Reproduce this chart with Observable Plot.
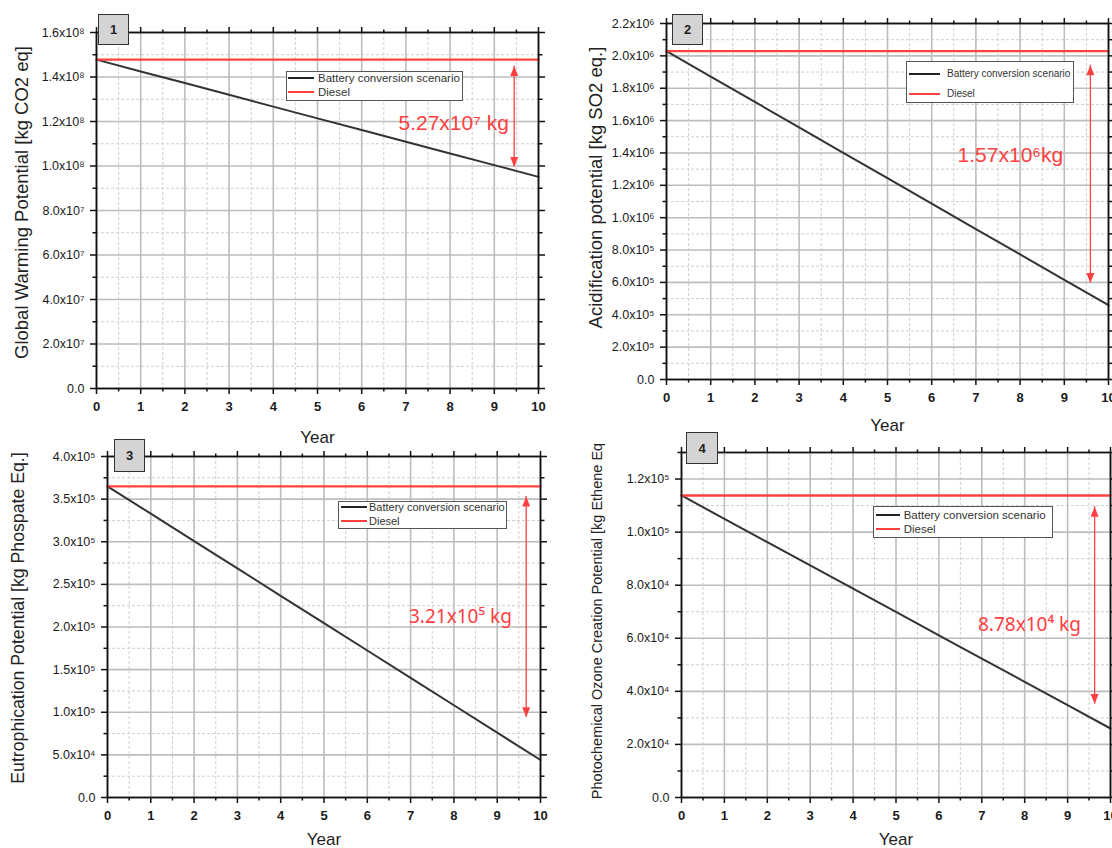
<!DOCTYPE html>
<html>
<head>
<meta charset="utf-8">
<script src="https://cdn.jsdelivr.net/npm/d3@7"></script>
<script src="https://cdn.jsdelivr.net/npm/@observablehq/plot@0.6"></script>
<style>
  html, body { margin: 0; padding: 0; background: #fff; }
  #root { position: relative; width: 1112px; height: 848px; overflow: hidden; background: #fff; font-family: "Liberation Sans", Arial, sans-serif; }
  .panel { position: absolute; }
  .panel svg { overflow: visible; background: transparent; max-width: none; }
  .badge { position: absolute; box-sizing: border-box; background: #d4d4d4; border: 1.5px solid #333; color: #222; font: 600 13px "Liberation Sans", Arial, sans-serif; display: flex; align-items: center; justify-content: center; }
  .legend { position: absolute; box-sizing: border-box; background: #fff; border: 1.5px solid #555; }
  .legend .row { position: absolute; left: 0; right: 0; height: 0; }
  .legend .sw { position: absolute; height: 0; border-top: 2px solid #222; top: -1px; }
  .legend .lab { position: absolute; top: 0; transform: translateY(-52%); color: #333; white-space: nowrap; font-family: "Liberation Sans", Arial, sans-serif; }
</style>
</head>
<body>
<div id="root"></div>
<script>
// ---------------- data ----------------
const years = [0, 1, 2, 3, 4, 5, 6, 7, 8, 9, 10];
const seriesNames = ["Battery conversion scenario", "Diesel"];

// Panel 1: Global warming potential [kg CO2 eq]
const gwpBattery = [1.478e8, 1.425e8, 1.373e8, 1.320e8, 1.267e8, 1.214e8, 1.162e8, 1.109e8, 1.056e8, 1.004e8, 0.951e8];
const gwpDiesel  = [1.478e8, 1.478e8, 1.478e8, 1.478e8, 1.478e8, 1.478e8, 1.478e8, 1.478e8, 1.478e8, 1.478e8, 1.478e8];
// Panel 2: Acidification potential [kg SO2 eq.]
const apBattery = [2.029e6, 1.872e6, 1.715e6, 1.558e6, 1.401e6, 1.244e6, 1.087e6, 0.930e6, 0.773e6, 0.616e6, 0.459e6];
const apDiesel  = [2.029e6, 2.029e6, 2.029e6, 2.029e6, 2.029e6, 2.029e6, 2.029e6, 2.029e6, 2.029e6, 2.029e6, 2.029e6];
// Panel 3: Eutrophication potential [kg Phosphate eq.]
const epBattery = [3.650e5, 3.329e5, 3.008e5, 2.687e5, 2.366e5, 2.045e5, 1.724e5, 1.403e5, 1.082e5, 0.761e5, 0.440e5];
const epDiesel  = [3.650e5, 3.650e5, 3.650e5, 3.650e5, 3.650e5, 3.650e5, 3.650e5, 3.650e5, 3.650e5, 3.650e5, 3.650e5];
// Panel 4: Photochemical ozone creation potential [kg Ethene eq]
const pocpBattery = [1.138e5, 1.050e5, 0.962e5, 0.875e5, 0.787e5, 0.699e5, 0.611e5, 0.523e5, 0.436e5, 0.348e5, 0.260e5];
const pocpDiesel  = [1.138e5, 1.138e5, 1.138e5, 1.138e5, 1.138e5, 1.138e5, 1.138e5, 1.138e5, 1.138e5, 1.138e5, 1.138e5];

const panelNumbers = ["1", "2", "3", "4"];
const yTitles = [
  "Global Warming Potential [kg CO2 eq]",
  "Acidification potential [kg SO2 eq.]",
  "Eutrophication Potential [kg Phospate Eq.]",
  "Photochemical Ozone Creation Potential [kg Ethene Eq"
];
const xTitle = "Year";
const savingLabels = ["5.27x10⁷ kg", "1.57x10⁶kg", "3.21x10⁵ kg", "8.78x10⁴ kg"];

const xMajor = [0, 1, 2, 3, 4, 5, 6, 7, 8, 9, 10];
const xMinor = [0.5, 1.5, 2.5, 3.5, 4.5, 5.5, 6.5, 7.5, 8.5, 9.5];
const gwpTicks  = [0, 2e7, 4e7, 6e7, 8e7, 1e8, 1.2e8, 1.4e8, 1.6e8];
const gwpMinor  = [1e7, 3e7, 5e7, 7e7, 9e7, 1.1e8, 1.3e8, 1.5e8];
const apTicks   = [0, 2e5, 4e5, 6e5, 8e5, 1e6, 1.2e6, 1.4e6, 1.6e6, 1.8e6, 2e6, 2.2e6];
const apMinor   = [1e5, 3e5, 5e5, 7e5, 9e5, 1.1e6, 1.3e6, 1.5e6, 1.7e6, 1.9e6, 2.1e6];
const epTicks   = [0, 5e4, 1e5, 1.5e5, 2e5, 2.5e5, 3e5, 3.5e5, 4e5];
const epMinor   = [2.5e4, 7.5e4, 1.25e5, 1.75e5, 2.25e5, 2.75e5, 3.25e5, 3.75e5];
const pocpTicks = [0, 2e4, 4e4, 6e4, 8e4, 1e5, 1.2e5];
const pocpMinor = [1e4, 3e4, 5e4, 7e4, 9e4, 1.1e5, 1.3e5];

// ---------------- helpers ----------------
const SUP = "⁰¹²³⁴⁵⁶⁷⁸⁹";
function sci(v) {
  if (v === 0) return "0.0";
  const e = Math.floor(Math.log10(v) + 1e-9);
  const m = v / Math.pow(10, e);
  return m.toFixed(1) + "x10" + String(e).split("").map(c => SUP[+c]).join("");
}
const RED = "#ff4040";
const upHead = { draw(ctx) { ctx.moveTo(0, 0); ctx.lineTo(4, 10); ctx.lineTo(-4, 10); ctx.closePath(); } };
const downHead = { draw(ctx) { ctx.moveTo(0, 0); ctx.lineTo(4, -10); ctx.lineTo(-4, -10); ctx.closePath(); } };

// ---------------- layout ----------------
const panels = [
  { battery: gwpBattery, diesel: gwpDiesel, ymax: 1.6e8, ticks: gwpTicks, minor: gwpMinor,
    left: 0, top: 0, width: 556, height: 452, mL: 96, mR: 18, mT: 32, mB: 64,
    titleDx: -74, titleDy: -8, titleSize: 18.5, yearDy: 49,
    arrow: { x: 9.45, top: 1.45e8, bottom: 0.996e8 }, label: { x: 8.08, y: 1.194e8, size: 21, font: "Liberation Sans, Arial, sans-serif" },
    badge: [98, 14, 31, 31],
    legend: { left: 286, top: 71, w: 177, h: 30, rows: [7, 21], line: [1, 27], text: 31, size: 11.5 } },
  { battery: apBattery, diesel: apDiesel, ymax: 2.2e6, ticks: apTicks, minor: apMinor,
    left: 556, top: 0, width: 556, height: 430, mL: 110, mR: 4, mT: 23, mB: 51,
    titleDx: -70, titleDy: -14, titleSize: 18.5, yearDy: 46,
    arrow: { x: 9.59, top: 1.942e6, bottom: 0.597e6 }, label: { x: 7.78, y: 1.386e6, size: 21, font: "Liberation Sans, Arial, sans-serif" },
    badge: [672, 14, 31, 31],
    legend: { left: 906, top: 61, w: 168, h: 42, rows: [13, 33], line: [2, 33], text: 40, size: 10 } },
  { battery: epBattery, diesel: epDiesel, ymax: 4e5, ticks: epTicks, minor: epMinor,
    left: 0, top: 420, width: 556, height: 428, mL: 107, mR: 16, mT: 36, mB: 51,
    titleDx: -89, titleDy: -9, titleSize: 17.7, yearDy: 42,
    arrow: { x: 9.67, top: 3.53e5, bottom: 0.94e5 }, label: { x: 8.15, y: 2.113e5, size: 19, font: "Noto Sans, Open Sans, sans-serif" },
    badge: [114, 439, 31, 33],
    legend: { left: 338, top: 501, w: 169, h: 28, rows: [6.5, 20], line: [1.5, 28], text: 30, size: 11 } },
  { battery: pocpBattery, diesel: pocpDiesel, ymax: 1.3e5, ticks: pocpTicks, minor: pocpMinor,
    left: 556, top: 420, width: 556, height: 428, mL: 125, mR: 2, mT: 32, mB: 51,
    titleDx: -84, titleDy: -4, titleSize: 14.5, yearDy: 42,
    arrow: { x: 9.63, top: 1.0957e5, bottom: 0.352e5 }, label: { x: 8.11, y: 0.651e5, size: 19, font: "Noto Sans, Open Sans, sans-serif" },
    badge: [686, 432, 32, 32],
    legend: { left: 873, top: 506, w: 180, h: 32, rows: [9, 23], line: [2, 26], text: 29.7, size: 11.5 } }
];

const root = document.getElementById("root");

panels.forEach((p, i) => {
  const rows = years.map((yr, k) => ({ year: yr, value: p.battery[k], series: seriesNames[0] }));
  const dieselRows = years.map((yr, k) => ({ year: yr, value: p.diesel[k], series: seriesNames[1] }));
  const ann = [{ ax: p.arrow.x, top: p.arrow.top, bottom: p.arrow.bottom, tx: p.label.x, ty: p.label.y, text: savingLabels[i] }];

  const chart = Plot.plot({
    width: p.width, height: p.height,
    marginLeft: p.mL, marginRight: p.mR, marginTop: p.mT, marginBottom: p.mB,
    x: { domain: [0, 10] },
    y: { domain: [0, p.ymax] },
    style: { fontFamily: "Liberation Sans, Arial, sans-serif", color: "#222", background: "transparent", overflow: "visible" },
    marks: [
      Plot.gridX(xMinor, { stroke: "#cfcfcf", strokeOpacity: 1, strokeWidth: 1, strokeDasharray: "3,2" }),
      Plot.gridY(p.minor, { stroke: "#cfcfcf", strokeOpacity: 1, strokeWidth: 1, strokeDasharray: "3,2" }),
      Plot.gridX(xMajor, { stroke: "#bdbdbd", strokeOpacity: 1, strokeWidth: 1.6 }),
      Plot.gridY(p.ticks, { stroke: "#bdbdbd", strokeOpacity: 1, strokeWidth: 1.6 }),
      Plot.line(rows, { x: "year", y: "value", stroke: "#333", strokeWidth: 2 }),
      Plot.line(dieselRows, { x: "year", y: "value", stroke: RED, strokeWidth: 2.4 }),
      Plot.ruleX(ann, { x: "ax", y1: "top", y2: "bottom", stroke: RED, strokeWidth: 1.3 }),
      Plot.dot(ann, { x: "ax", y: "top", symbol: upHead, fill: RED, stroke: "none", r: 4 }),
      Plot.dot(ann, { x: "ax", y: "bottom", symbol: downHead, fill: RED, stroke: "none", r: 4 }),
      Plot.text(ann, { x: "tx", y: "ty", text: "text", fill: RED, fontSize: p.label.size, fontFamily: p.label.font }),
      Plot.frame({ stroke: "#111", strokeWidth: 1.8 }),
      Plot.axisX(xMajor, { anchor: "bottom", tickSize: 6, tickPadding: 7, fontSize: 13, fontWeight: "bold", tickFormat: d => String(d), label: null, stroke: "#111", strokeWidth: 1.5, fill: "#1a1a1a" }),
      Plot.axisX(xMinor, { anchor: "bottom", tickSize: 3.5, tickFormat: () => "", label: null, stroke: "#111", strokeWidth: 1.5 }),
      Plot.axisX(xMajor, { anchor: "top", tickSize: 6, tickFormat: () => "", label: null, stroke: "#111", strokeWidth: 1.5 }),
      Plot.axisX(xMinor, { anchor: "top", tickSize: 3.5, tickFormat: () => "", label: null, stroke: "#111", strokeWidth: 1.5 }),
      Plot.axisY(p.ticks, { anchor: "left", tickSize: 6, tickPadding: 6, fontSize: 12.5, tickFormat: sci, label: null, stroke: "#111", strokeWidth: 1.5, fill: "#1a1a1a" }),
      Plot.axisY(p.minor, { anchor: "left", tickSize: 3.5, tickFormat: () => "", label: null, stroke: "#111", strokeWidth: 1.5 }),
      Plot.axisY(p.ticks, { anchor: "right", tickSize: 6, tickFormat: () => "", label: null, stroke: "#111", strokeWidth: 1.5 }),
      Plot.axisY(p.minor, { anchor: "right", tickSize: 3.5, tickFormat: () => "", label: null, stroke: "#111", strokeWidth: 1.5 }),
      Plot.text([yTitles[i]], { text: d => d, frameAnchor: "left", textAnchor: "middle", lineAnchor: "middle", rotate: -90, dx: p.titleDx, dy: p.titleDy, fontSize: p.titleSize, fill: "#222" }),
      Plot.text([xTitle], { text: d => d, frameAnchor: "bottom", lineAnchor: "middle", dy: p.yearDy, fontSize: 17, fill: "#222" })
    ]
  });
  const wrap = document.createElement("div");
  wrap.className = "panel";
  wrap.style.left = p.left + "px";
  wrap.style.top = p.top + "px";
  wrap.appendChild(chart);
  root.appendChild(wrap);
});

// badges and legends on top
panels.forEach((p, i) => {
  const b = document.createElement("div");
  b.className = "badge";
  const [bx, by, bw, bh] = p.badge;
  Object.assign(b.style, { left: bx + "px", top: by + "px", width: bw + "px", height: bh + "px" });
  b.textContent = panelNumbers[i];
  root.appendChild(b);

  const L = p.legend;
  const lg = document.createElement("div");
  lg.className = "legend";
  Object.assign(lg.style, { left: L.left + "px", top: L.top + "px", width: L.w + "px", height: L.h + "px" });
  seriesNames.forEach((name, k) => {
    const row = document.createElement("div");
    row.className = "row";
    row.style.top = (L.rows[k] - 1.5) + "px";
    const sw = document.createElement("div");
    sw.className = "sw";
    sw.style.left = L.line[0] + "px";
    sw.style.width = (L.line[1] - L.line[0]) + "px";
    sw.style.borderTopColor = k === 0 ? "#222" : RED;
    const lab = document.createElement("div");
    lab.className = "lab";
    lab.style.left = L.text + "px";
    lab.style.fontSize = L.size + "px";
    lab.textContent = name;
    row.appendChild(sw);
    row.appendChild(lab);
    lg.appendChild(row);
  });
  root.appendChild(lg);
});
</script>
</body>
</html>
